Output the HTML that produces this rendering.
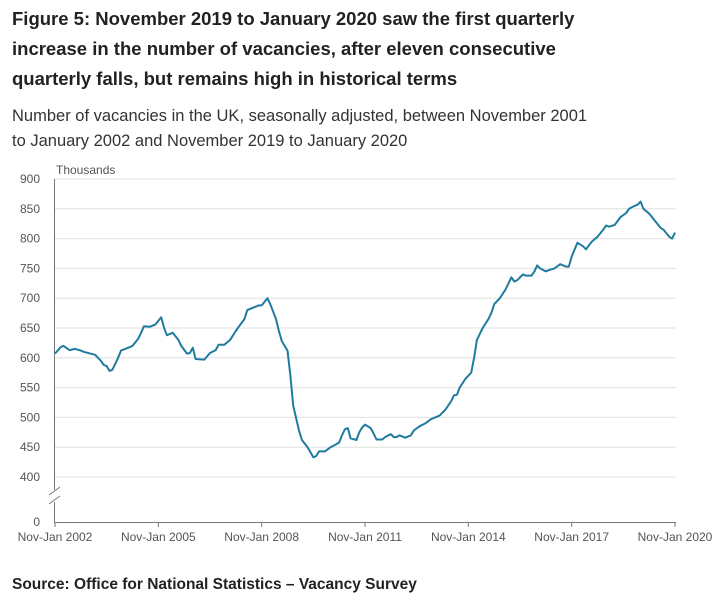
<!DOCTYPE html>
<html><head><meta charset="utf-8"><style>
body{margin:0;width:713px;height:605px;background:#fff;font-family:"Liberation Sans",sans-serif;overflow:hidden}
.t{position:absolute;left:12px;top:4px;font-weight:bold;font-size:18.5px;line-height:30px;color:#222}
.s{position:absolute;left:12px;top:104px;font-size:16.5px;line-height:25px;color:#333}
.src{position:absolute;left:12px;top:576px;font-weight:bold;font-size:15.5px;color:#222}
svg{position:absolute;left:0;top:0}
</style></head><body>
<div class="t">Figure 5: November 2019 to January 2020 saw the first quarterly<br>increase in the number of vacancies, after eleven consecutive<br>quarterly falls, but remains high in historical terms</div>
<div class="s">Number of vacancies in the UK, seasonally adjusted, between November 2001<br>to January 2002 and November 2019 to January 2020</div>
<svg id="c" width="713" height="605"></svg>
<div class="src">Source: Office for National Statistics – Vacancy Survey</div>
<script>
const months=[0,2,3,5,7,9,10,14,16,17,18,19,20,22,23,25,27,29,30,31,33,35,37,38,39,41,43,44,46,47,48,49,52,54,56,57,59,61,63,64,66,67,69,71,72,74,75,77,78,79,81,82,83,85,86,88,90,91,92,94,96,98,99,100,101,102,103,105,106,107,108,110,111,112,114,115,117,118,119,120,122,124,125,127,129,131,134,136,138,139,140,141,143,145,146,147,149,151,152,153,155,157,159,160,161,163,164,166,167,168,169,171,172,174,176,178,179,180,182,184,185,187,189,191,192,193,195,197,199,200,202,203,204,205,207,209,211,212,214,215,216];
const values=[607,618,620,613,615,612,610,605,595,588,586,578,580,600,612,616,620,632,642,653,652,656,668,650,638,642,630,620,607,608,617,598,597,608,613,622,622,630,645,652,665,680,684,688,688,700,690,665,645,628,612,570,520,478,462,450,433,435,443,443,450,455,458,470,480,482,465,462,475,483,488,482,473,463,463,467,472,467,467,470,466,470,478,485,490,497,503,513,527,537,538,550,565,575,600,630,650,665,675,690,700,715,735,728,730,740,738,738,745,755,750,745,747,750,757,753,753,770,793,787,782,795,803,815,822,820,823,836,843,850,855,857,862,850,842,830,818,815,803,800,810];
const yTicks=[400,450,500,550,600,650,700,750,800,850,900];
const xTickMonths=[0,36,72,108,144,180,216];
const xTickLabels=["Nov-Jan 2002","Nov-Jan 2005","Nov-Jan 2008","Nov-Jan 2011","Nov-Jan 2014","Nov-Jan 2017","Nov-Jan 2020"];
const svg=document.getElementById('c'),NS='http://www.w3.org/2000/svg';
const X=m=>55+m*(620/216), Y=v=>477-(v-400)*(298/500);
function mk(t,a,p){const e=document.createElementNS(NS,t);for(const k in a)e.setAttribute(k,a[k]);(p||svg).appendChild(e);return e;}
yTicks.forEach(v=>{
 const g=mk('line',{x1:55,x2:676,y1:Y(v),y2:Y(v),stroke:'#e0e0e0','stroke-width':1});
 
 
 const t=mk('text',{x:40,y:Y(v)+4,'text-anchor':'end','font-size':12,fill:'#555','font-family':'Liberation Sans'});
 t.textContent=v;
 
 
});
const z=mk('text',{x:40,y:526,'text-anchor':'end','font-size':12,fill:'#555','font-family':'Liberation Sans'});z.textContent='0';


const u=mk('text',{x:56,y:174,'font-size':12,fill:'#555','font-family':'Liberation Sans'});u.textContent='Thousands';


const ax=mk('path',{d:'M54.5 179V522.5H676',stroke:'#777',fill:'none','stroke-width':1});


mk('rect',{x:52,y:490,width:5,height:12,fill:'#fff'});
const br=mk('path',{d:'M49 495L60 487M49 504L60 496',stroke:'#777','stroke-width':1});


xTickMonths.forEach((m,i)=>{
 mk('line',{x1:X(m),x2:X(m),y1:522,y2:527,stroke:'#777'});
 const t=mk('text',{x:X(m),y:541,'text-anchor':'middle','font-size':12,fill:'#555','font-family':'Liberation Sans'});
 t.textContent=xTickLabels[i];
 
 
});
const p=mk('path',{d:months.map((m,i)=>(i?'L':'M')+X(m).toFixed(1)+' '+Y(values[i]).toFixed(1)).join(''),fill:'none',stroke:'#1f7ba0','stroke-width':2,'stroke-linejoin':'round'});


</script>
</body></html>
